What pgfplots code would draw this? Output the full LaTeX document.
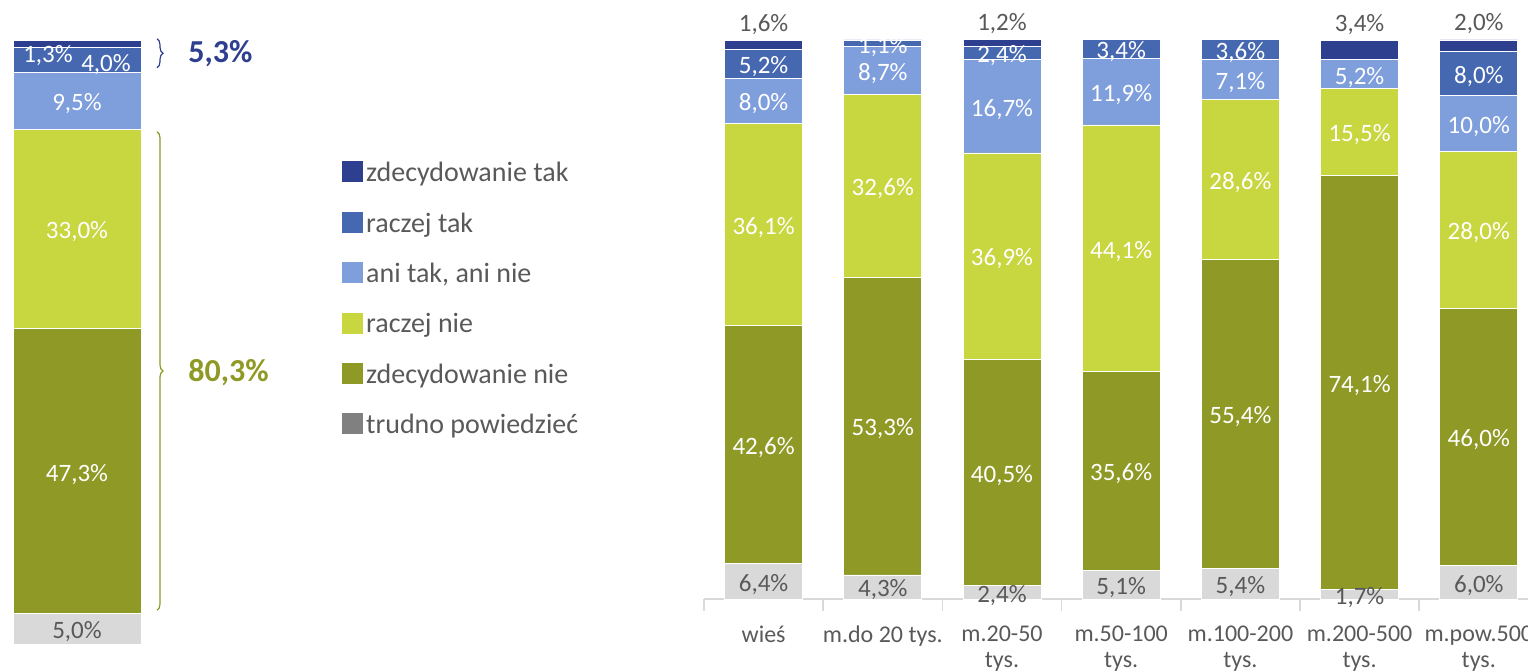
\documentclass[border=0pt]{standalone}
\usepackage{pgfplots}
\pgfplotsset{compat=1.18}
\usepackage{pgfplotstable}
\usepackage{fontspec}
\setmainfont{Carlito}
\usetikzlibrary{decorations.pathreplacing}

\definecolor{cZT}{HTML}{2F3F8F}
\definecolor{cRT}{HTML}{4668B0}
\definecolor{cAN}{HTML}{7F9EDC}
\definecolor{cRN}{HTML}{C8D640}
\definecolor{cZN}{HTML}{8F9A26}
\definecolor{cTP}{HTML}{D9D9D9}
\definecolor{cTPleg}{HTML}{808080}
\definecolor{txt}{HTML}{595959}

% bottom -> top: trudno powiedziec, zdecydowanie nie, raczej nie, ani tak ani nie, raczej tak, zdecydowanie tak
\pgfplotstableread{
x tp zn rn an rt zt
0 5.0 47.3 33.0 9.5 4.0 1.3
}\lefttab

\pgfplotstableread{
x tp zn rn an rt zt
0 6.4 42.6 36.1 8.0 5.2 1.6
1 4.3 53.3 32.6 8.7 1.1 0
2 2.4 40.5 36.9 16.7 2.4 1.2
3 5.1 35.6 44.1 11.9 3.4 0
4 5.4 55.4 28.6 7.1 3.6 0
5 1.7 74.1 15.5 5.2 0 3.4
6 6.0 46.0 28.0 10.0 8.0 2.0
}\righttab

\pgfplotsset{
  seg/.style={fill=#1, draw=white, line width=0.4pt, forget plot},
  lab/.style={draw=none, mark=none, forget plot,
     every node near coord/.append style={text=#1}},
  bars/.style={ybar stacked, scale only axis, clip=false, ymin=0},
  labels/.style={scale only axis, clip=false, ymin=0, hide axis,
    point meta=explicit,
    nodes near coords={\pgfmathfloatifflags{\pgfplotspointmeta}{0}{}{\pgfmathprintnumber{\pgfplotspointmeta}\%}},
    nodes near coords style={font=\fontsize{12.5}{14}\selectfont, inner sep=0pt, anchor=center, yshift=-1.5pt},
    /pgf/number format/fixed,
    /pgf/number format/fixed zerofill,
    /pgf/number format/precision=1,
    /pgf/number format/use comma,
    /pgf/number format/assume math mode=true,
  },
  leftgeom/.style={at={(6.5pt,13.5pt)}, anchor=south west,
    width=64pt, height=302pt, xmin=-0.5, xmax=0.5, ymax=100.1},
  rightgeom/.style={at={(352pt,36pt)}, anchor=south west,
    width=417.2pt, height=279.5pt, xmin=-0.5, xmax=6.5, ymax=100},
}

\begin{document}
\begin{tikzpicture}[x=1pt,y=1pt]
% ---------- left: total (bars) ----------
\begin{axis}[bars, leftgeom, bar width=64pt, hide axis,
  legend style={at={(axis description cs:2.570,0.7997)}, anchor=north west,
    draw=none, fill=none, inner sep=0pt, row sep=12.5pt,
    font=\fontsize{14}{16}\selectfont,
    nodes={inner sep=0pt, text height=9.5pt, text depth=2.5pt, text=txt}},
  legend cell align=left,
]
\addplot[seg=cTP] table[x=x,y=tp]{\lefttab};
\addplot[seg=cZN] table[x=x,y=zn]{\lefttab};
\addplot[seg=cRN] table[x=x,y=rn]{\lefttab};
\addplot[seg=cAN] table[x=x,y=an]{\lefttab};
\addplot[seg=cRT] table[x=x,y=rt]{\lefttab};
\addplot[seg=cZT] table[x=x,y=zt]{\lefttab};

\addlegendimage{legend image code/.code={\fill[cZT] (0pt,-3.5pt) rectangle (10pt,6.5pt);}}
\addlegendentry{\hspace{1.5pt}zdecydowanie tak}
\addlegendimage{legend image code/.code={\fill[cRT] (0pt,-3.5pt) rectangle (10pt,6.5pt);}}
\addlegendentry{\hspace{1.5pt}raczej tak}
\addlegendimage{legend image code/.code={\fill[cAN] (0pt,-3.5pt) rectangle (10pt,6.5pt);}}
\addlegendentry{\hspace{1.5pt}ani tak, ani nie}
\addlegendimage{legend image code/.code={\fill[cRN] (0pt,-3.5pt) rectangle (10pt,6.5pt);}}
\addlegendentry{\hspace{1.5pt}raczej nie}
\addlegendimage{legend image code/.code={\fill[cZN] (0pt,-3.5pt) rectangle (10pt,6.5pt);}}
\addlegendentry{\hspace{1.5pt}zdecydowanie nie}
\addlegendimage{legend image code/.code={\fill[cTPleg] (0pt,-3.5pt) rectangle (10pt,6.5pt);}}
\addlegendentry{\hspace{1.5pt}trudno powiedzieć}

\draw[cZT, line width=0.6pt, decorate, decoration={brace, amplitude=3pt}]
  (axis cs:0.625,100.3) -- (axis cs:0.625,95.5);
\draw[cZN, line width=0.6pt, decorate, decoration={brace, amplitude=3pt}]
  (axis cs:0.625,84.9) -- (axis cs:0.625,5.6);
\node[anchor=west, text=cZT, font=\bfseries\fontsize{16}{18}\selectfont, inner sep=0pt]
  at (axis cs:0.867,97.85) {5,3\%};
\node[anchor=west, text=cZN, font=\bfseries\fontsize{16}{18}\selectfont, inner sep=0pt]
  at (axis cs:0.867,45.0) {80,3\%};
\end{axis}

% ---------- left: value labels, centred in the segments ----------
\begin{axis}[labels, leftgeom]
\addplot[lab=txt] table[x=x, y expr=\thisrow{tp}/2, meta=tp]{\lefttab};
\addplot[lab=white] table[x=x, y expr=\thisrow{tp}+\thisrow{zn}/2, meta=zn]{\lefttab};
\addplot[lab=white] table[x=x, y expr=\thisrow{tp}+\thisrow{zn}+\thisrow{rn}/2, meta=rn]{\lefttab};
\addplot[lab=white] table[x=x, y expr=\thisrow{tp}+\thisrow{zn}+\thisrow{rn}+\thisrow{an}/2, meta=an]{\lefttab};
\addplot[lab=white, every node near coord/.append style={xshift=14.5pt, yshift=-1pt}]
  table[x=x, y expr=\thisrow{tp}+\thisrow{zn}+\thisrow{rn}+\thisrow{an}+\thisrow{rt}/2, meta=rt]{\lefttab};
\addplot[lab=white, every node near coord/.append style={xshift=-14.5pt, yshift=-4.5pt}]
  table[x=x, y expr=\thisrow{tp}+\thisrow{zn}+\thisrow{rn}+\thisrow{an}+\thisrow{rt}+\thisrow{zt}/2, meta=zt]{\lefttab};
\end{axis}

% ---------- right: by place of residence (bars) ----------
\begin{axis}[bars, rightgeom, bar width=39pt,
  axis y line=none, axis x line*=bottom,
  axis line style={draw=cTP, line width=0.8pt},
  xtick={0,...,6},
  xticklabels={wieś, m.do 20 tys., {m.20-50\\tys.}, {m.50-100\\tys.}, {m.100-200\\tys.}, {m.200-500\\tys.}, {m.pow.500\\tys.}},
  xticklabel style={align=center, font=\fontsize{12}{13}\selectfont, text=txt, yshift=-10pt},
  major tick length=0pt, tick align=outside,
  extra x ticks={-0.5,0.5,...,6.5}, extra x tick labels={},
  extra x tick style={major tick length=6pt, major tick style={draw=cTP, line width=0.8pt}},
]
\addplot[seg=cTP] table[x=x,y=tp]{\righttab};
\addplot[seg=cZN] table[x=x,y=zn]{\righttab};
\addplot[seg=cRN] table[x=x,y=rn]{\righttab};
\addplot[seg=cAN] table[x=x,y=an]{\righttab};
\addplot[seg=cRT] table[x=x,y=rt]{\righttab};
\addplot[seg=cZT] table[x=x,y=zt]{\righttab};
\end{axis}

% ---------- right: value labels ----------
\begin{axis}[labels, rightgeom]
\addplot[lab=txt] table[x=x, y expr=\thisrow{tp}/2, meta=tp]{\righttab};
\addplot[lab=white] table[x=x, y expr=\thisrow{tp}+\thisrow{zn}/2, meta=zn]{\righttab};
\addplot[lab=white] table[x=x, y expr=\thisrow{tp}+\thisrow{zn}+\thisrow{rn}/2, meta=rn]{\righttab};
\addplot[lab=white] table[x=x, y expr=\thisrow{tp}+\thisrow{zn}+\thisrow{rn}+\thisrow{an}/2, meta=an]{\righttab};
\addplot[lab=white] table[x=x, y expr=\thisrow{tp}+\thisrow{zn}+\thisrow{rn}+\thisrow{an}+\thisrow{rt}/2, meta=rt]{\righttab};
\addplot[lab=txt, every node near coord/.append style={yshift=9.5pt}]
  table[x=x, y expr=\thisrow{tp}+\thisrow{zn}+\thisrow{rn}+\thisrow{an}+\thisrow{rt}+\thisrow{zt}, meta=zt]{\righttab};
\end{axis}

\pgfresetboundingbox
\path[use as bounding box] (0pt,0pt) rectangle (764pt,335.5pt);
\end{tikzpicture}
\end{document}
